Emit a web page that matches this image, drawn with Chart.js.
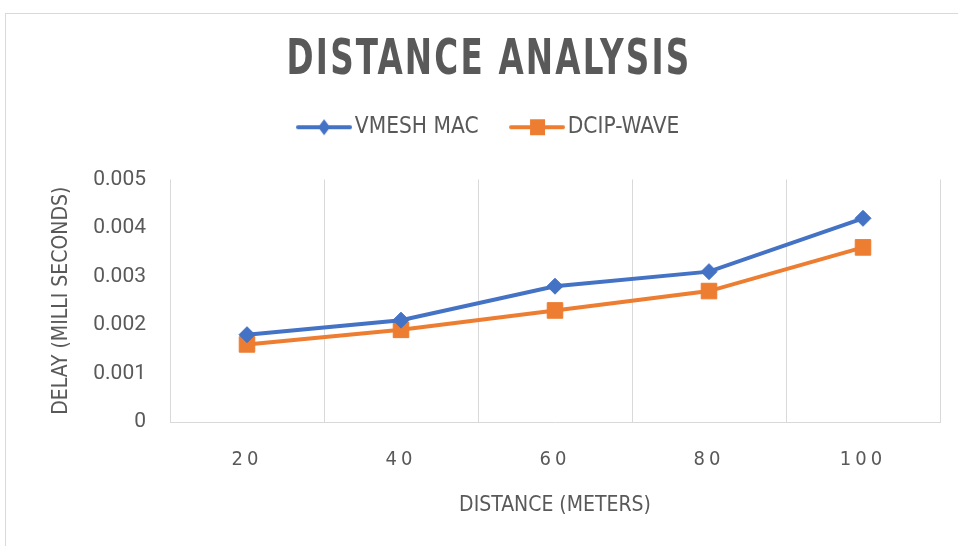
<!DOCTYPE html>
<html>
<head>
<meta charset="utf-8">
<script src="https://cdn.jsdelivr.net/npm/chart.js@4.4.0/dist/chart.umd.min.js"></script>
<style>
    html, body { margin: 0; padding: 0; background: #fff; }
    #wrap { position: relative; width: 958px; height: 546px; overflow: hidden; }
    #chart1 { position: absolute; left: 0; top: 0; }
    #frame { position: absolute; left: 5px; top: 13px; width: 1000px; height: 600px; border: 1px solid #d9d9d9; pointer-events: none; }
</style>
</head>
<body>
<div id="wrap">
    <canvas id="chart1" width="958" height="546"></canvas>
    <div id="frame"></div>
</div>
<script>
const distances = ['20', '40', '60', '80', '100'];
const vmeshMac = [0.0018, 0.0021, 0.0028, 0.0031, 0.0042];
const dcipWave = [0.0016, 0.0019, 0.0023, 0.0027, 0.0036];
const yMin = 0;
const yMax = 0.005;
const yStep = 0.001;

const blue = '#4472C4';
const orange = '#ED7D31';
const grey = '#595959';
const gridGrey = '#D9D9D9';
const narrow = "'Liberation Sans Narrow', 'DejaVu Sans Condensed', 'Roboto Condensed', 'Arial Narrow', sans-serif";

// legend icon: short line with the marker on it
function legendIcon(color, shape) {
    const c = document.createElement('canvas');
    c.width = 56;
    c.height = 20;
    const g = c.getContext('2d');
    g.strokeStyle = color;
    g.lineWidth = 4;
    g.lineCap = 'round';
    g.beginPath();
    g.moveTo(2, 10);
    g.lineTo(54, 10);
    g.stroke();
    g.fillStyle = color;
    g.beginPath();
    if (shape === 'diamond') {
        g.moveTo(28, 2); g.lineTo(34, 10); g.lineTo(28, 18); g.lineTo(22, 10);
    } else {
        g.rect(21, 2, 15, 16);
    }
    g.fill();
    return c;
}
const icons = [legendIcon(blue, 'diamond'), legendIcon(orange, 'square')];

// title is a narrow, letter-spaced face in the original; squeeze it
const spacing = {
    id: 'spacing',
    beforeDraw(chart) {
        const t = chart.titleBlock;
        if (t && !t._spaced) {
            const orig = t.draw;
            t.draw = function() {
                const c = this.ctx;
                const cx = (this.left + this.right) / 2;
                c.save();
                c.letterSpacing = '3px';
                c.translate(489, 0);
                c.scale(0.725, 1);
                c.translate(-cx, 0);
                orig.apply(this, arguments);
                c.restore();
            };
            t._spaced = true;
        }
        const x = chart.scales.x;
        if (x && !x._spaced) {
            const origLabels = x.drawLabels;
            x.drawLabels = function() {
                const c = this.ctx;
                c.save();
                c.letterSpacing = '4px';
                origLabels.apply(this, arguments);
                c.restore();
            };
            x._spaced = true;
        }
    }
};

document.addEventListener('DOMContentLoaded', function() {
    const ctx1 = document.getElementById('chart1').getContext('2d');

    const chart1 = new Chart(ctx1, {
        type: 'line',
        data: {
            labels: distances,
            datasets: [{
                label: 'VMESH MAC',
                data: vmeshMac,
                borderColor: blue,
                backgroundColor: blue,
                borderWidth: 4,
                pointStyle: 'rectRot',
                pointRadius: 8,
                pointBorderWidth: 1,
                pointBackgroundColor: blue,
                pointBorderColor: blue,
                tension: 0
            }, {
                label: 'DCIP-WAVE',
                data: dcipWave,
                borderColor: orange,
                backgroundColor: orange,
                borderWidth: 4,
                pointStyle: 'rect',
                pointRadius: 11,
                pointBorderWidth: 1,
                pointBackgroundColor: orange,
                pointBorderColor: orange,
                tension: 0
            }]
        },
        options: {
            responsive: false,
            animation: false,
            layout: { padding: { left: 44, right: 18, top: 0, bottom: 0 } },
            plugins: {
                title: {
                    display: true,
                    text: 'DISTANCE ANALYSIS',
                    color: grey,
                    font: { family: narrow, size: 50, weight: 'bold', lineHeight: 0.64 },
                    padding: { top: 45, bottom: 0 }
                },
                subtitle: {
                    display: true,
                    text: '',
                    weight: 500,
                    padding: 0,
                    font: { size: 31, lineHeight: 1 }
                },
                legend: {
                    labels: {
                        usePointStyle: true,
                        pointStyleWidth: 39,
                        padding: 39,
                        color: grey,
                        font: { family: narrow, size: 22.5 },
                        generateLabels(chart) {
                            const items = Chart.defaults.plugins.legend.labels.generateLabels(chart);
                            items.forEach((it, i) => { it.pointStyle = icons[i]; });
                            return items;
                        }
                    }
                },
                tooltip: { enabled: false }
            },
            scales: {
                x: {
                    offset: true,
                    grid: { display: true, offset: true, color: gridGrey, lineWidth: 1, drawTicks: false },
                    border: { color: gridGrey, width: 1 },
                    ticks: { color: grey, padding: 26, font: { family: narrow, size: 20 } },
                    title: {
                        display: true,
                        text: 'DISTANCE (METERS)',
                        color: grey,
                        font: { family: narrow, size: 21 },
                        padding: { top: 0, bottom: 28 }
                    },
                    afterFit(s) { s.height = 124; }
                },
                y: {
                    min: yMin,
                    max: yMax,
                    grid: { display: false, drawTicks: false },
                    border: { display: false },
                    ticks: {
                        stepSize: yStep,
                        color: grey,
                        padding: 24,
                        font: { family: 'Roboto', size: 21 },
                        callback: v => v === 0 ? '0' : v.toFixed(3)
                    },
                    title: {
                        display: true,
                        text: 'DELAY (MILLI SECONDS)',
                        color: grey,
                        font: { family: narrow, size: 21, lineHeight: 1 },
                        padding: { top: 7, bottom: 0 }
                    },
                    afterFit(s) { s.width = 126; }
                }
            }
        },
        plugins: [spacing]
    });
});
</script>
</body>
</html>
